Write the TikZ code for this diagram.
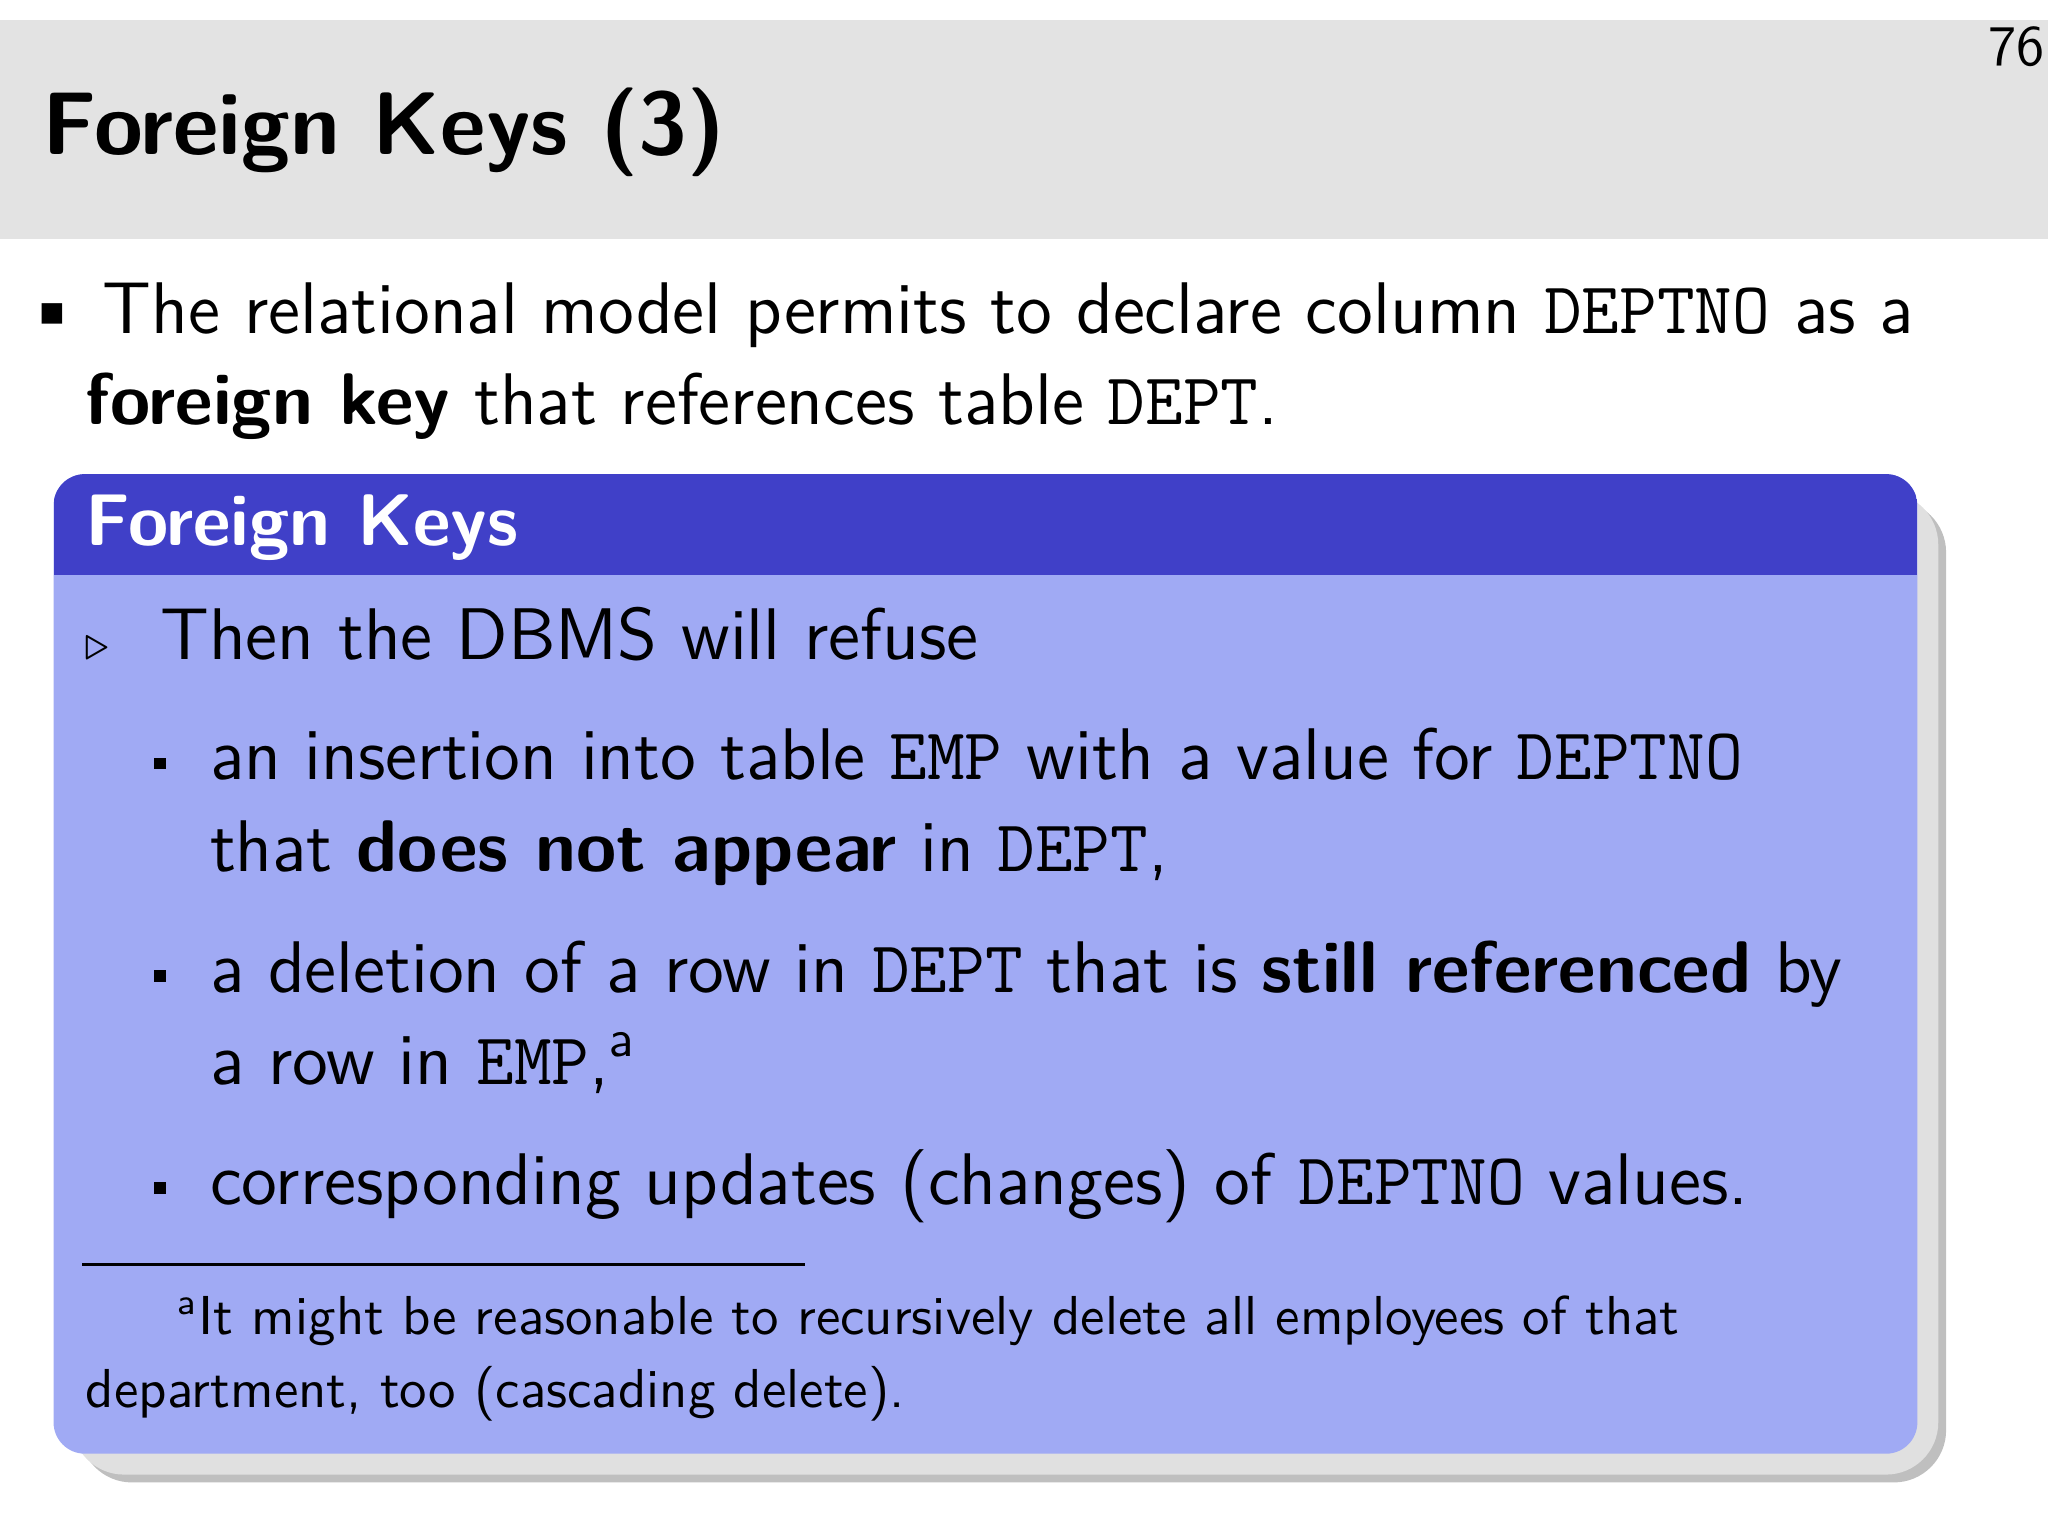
\documentclass[tikz,border=0pt]{standalone}
\usetikzlibrary{shadows}
\definecolor{hdr}{HTML}{E3E3E3}
\definecolor{blkh}{HTML}{4040C8}
\definecolor{blkb}{HTML}{A0AAF4}
\begin{document}
\begin{tikzpicture}[x=0.25pt,y=-0.25pt,
  txt/.style={anchor=base west,inner sep=0pt,font=\sffamily\fontsize{14}{17}\selectfont},
  fn/.style={anchor=base west,inner sep=0pt,font=\sffamily\fontsize{10.5}{13}\selectfont}]
\useasboundingbox (0,0) rectangle (1568,1176);
\fill[hdr] (0,15) rectangle (1568,183);
\node[txt,font=\sffamily\fontsize{11}{13}\selectfont,anchor=base east] (pg) at (1566,50) {76};
\node[txt,font=\sffamily\bfseries\fontsize{17}{20}\selectfont] (title) at (32,118) {Foreign Keys (3)};
\node[txt] (bul) at (18,255) {\textbullet};
\node[txt] (l1) at (78,255) {The relational model permits to declare column \texttt{DEPTNO} as a};
\node[txt] (l2) at (65,325) {\textbf{foreign key} that references table \texttt{DEPT}.};
% shadow
\fill[black!25,rounded corners=10pt] (61,383) rectangle (1490,1135);
\fill[black!12,rounded corners=10pt] (55,377) rectangle (1484,1129);
% block
\fill[blkb,rounded corners=6pt] (41,363) rectangle (1468,1113);
\begin{scope}
\clip[rounded corners=6pt] (41,363) rectangle (1468,1113);
\fill[blkh] (41,363) rectangle (1468,440);
\end{scope}
\node[txt,text=white,font=\sffamily\bfseries\fontsize{14}{17}\selectfont] (bh) at (65,418) {Foreign Keys};
\node[txt] (tri) at (64,505) {\small$\triangleright$};
\node[txt] (t1) at (122,505) {Then the DBMS will refuse};
\foreach \y in {597,760,922}{\fill (118,\y-17) rectangle (127,\y-8);}
\node[txt] (a1) at (160,597) {an insertion into table \texttt{EMP} with a value for \texttt{DEPTNO}};
\node[txt] (a2) at (160,667) {that \textbf{does not appear} in \texttt{DEPT},};
\node[txt] (b1) at (160,760) {a deletion of a row in \texttt{DEPT} that is \textbf{still referenced} by};
\node[txt] (b2) at (160,830) {a row in \texttt{EMP},$^{\mathsf{a}}$};
\node[txt] (c1) at (160,922) {corresponding updates (changes) of \texttt{DEPTNO} values.};
\draw[line width=0.6pt] (63,968) -- (616,968);
\node[fn] (f1) at (135,1022) {$^{\mathsf{a}}$It might be reasonable to recursively delete all employees of that};
\node[fn] (f2) at (65,1078) {department, too (cascading delete).};
\end{tikzpicture}
\end{document}
